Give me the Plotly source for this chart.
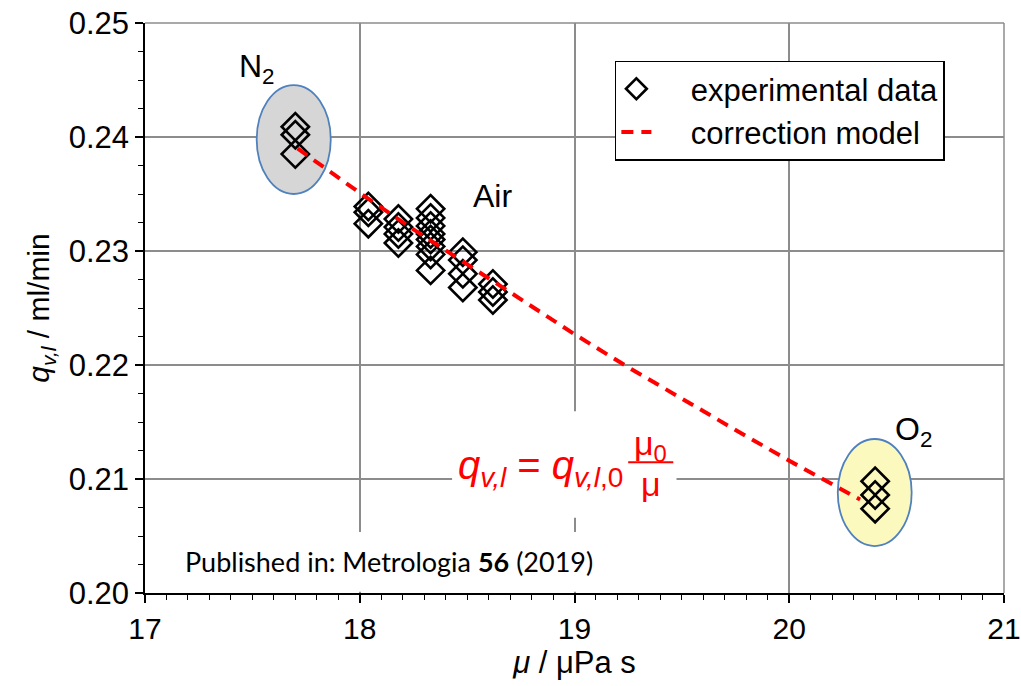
import plotly.graph_objects as go

# ---------------- data ----------------
n2_mu = [17.70, 17.70, 17.70]
n2_q = [0.2409, 0.2402, 0.2385]

air_mu = [18.04, 18.04, 18.04,
          18.18, 18.18, 18.18, 18.18,
          18.33, 18.33, 18.33, 18.33, 18.33, 18.33, 18.33, 18.33,
          18.48, 18.48, 18.48, 18.48,
          18.62, 18.62, 18.62]
air_q = [0.2339, 0.2334, 0.2324,
         0.2328, 0.2321, 0.2315, 0.2307,
         0.2337, 0.2329, 0.2322, 0.2315, 0.2310, 0.2304, 0.2297, 0.2283,
         0.2299, 0.2292, 0.2280, 0.2268,
         0.2271, 0.2264, 0.2257]

o2_mu = [20.40, 20.40, 20.40]
o2_q = [0.2098, 0.2086, 0.2074]

model_mu = [17.71, 18.00, 18.25, 18.50, 18.75, 19.00, 19.25, 19.50, 19.75, 20.00, 20.33]
model_q = [0.2390, 0.2351, 0.2319, 0.2288, 0.2257, 0.2227, 0.2198, 0.2170, 0.2143, 0.2116, 0.2082]

x_ticks = [17, 18, 19, 20, 21]
y_ticks = [0.20, 0.21, 0.22, 0.23, 0.24, 0.25]
y_ticklabels = ["0.20", "0.21", "0.22", "0.23", "0.24", "0.25"]

exp_mu = n2_mu + air_mu + o2_mu
exp_q = n2_q + air_q + o2_q

FONT = "Liberation Sans, Arial, sans-serif"
RED = "#FF0000"
GRID = "#8c8c8c"
NB = "\u00a0"

fig = go.Figure()

fig.add_trace(go.Scatter(
    x=exp_mu, y=exp_q, mode="markers", name=NB * 4 + "experimental data",
    marker=dict(symbol="diamond-open", size=21, color="black",
                line=dict(color="black", width=2.6)),
))
fig.add_trace(go.Scatter(
    x=model_mu, y=model_q, mode="lines", name=NB * 4 + "correction model",
    line=dict(color=RED, width=4, dash="12px,8px"),
))

shapes = [
    # top and right grid borders
    dict(type="line", xref="paper", yref="paper", x0=0, x1=1, y0=1, y1=1,
         line=dict(color=GRID, width=1.5), layer="below"),
    dict(type="line", xref="paper", yref="paper", x0=1, x1=1, y0=0, y1=1,
         line=dict(color=GRID, width=1.5), layer="below"),
    # N2 ellipse
    dict(type="circle", xref="x", yref="y", x0=17.52, x1=17.865, y0=0.2350, y1=0.24455,
         fillcolor="#d6d6d6", line=dict(color="#4F81BD", width=1.8), layer="between"),
    # O2 ellipse
    dict(type="circle", xref="x", yref="y", x0=20.226, x1=20.57, y0=0.20412, y1=0.21351,
         fillcolor="#fcf9bf", line=dict(color="#4F81BD", width=1.8), layer="between"),
    # white box behind formula
    dict(type="rect", xref="x", yref="y", x0=18.43, x1=19.475, y0=0.2066, y1=0.21595,
         fillcolor="white", line=dict(width=0), layer="between"),
    # white box behind publication note
    dict(type="rect", xref="x", yref="y", x0=17.0, x1=19.16, y0=0.2001, y1=0.20535,
         fillcolor="white", line=dict(width=0), layer="between"),
    # fraction bar
    dict(type="line", xref="x", yref="y", x0=19.25, x1=19.46, y0=0.21148, y1=0.21148,
         line=dict(color=RED, width=2)),
]

annotations = [
    dict(x=17.52, y=0.2460, text="N<sub>2</sub>", showarrow=False,
         font=dict(family=FONT, size=32, color="black")),
    dict(x=18.62, y=0.2348, text="Air", showarrow=False,
         font=dict(family=FONT, size=32, color="black")),
    dict(x=20.58, y=0.2142, text="O<sub>2</sub>", showarrow=False,
         font=dict(family=FONT, size=32, color="black")),
    dict(x=18.84, y=0.2110, xanchor="center",
         text="<i>q</i><sub><i>v,l</i></sub> = <i>q</i><sub><i>v,l</i>,0</sub>",
         showarrow=False, font=dict(family=FONT, size=40, color=RED)),
    dict(x=19.355, y=0.21295, text="μ<sub>0</sub>", showarrow=False,
         font=dict(family=FONT, size=34, color=RED)),
    dict(x=19.355, y=0.20955, text="μ", showarrow=False,
         font=dict(family=FONT, size=34, color=RED)),
    dict(x=18.137, y=0.20275, xanchor="center",
         text="Published in: Metrologia <b>56</b> (2019)", showarrow=False,
         font=dict(family="Lato, sans-serif", size=27, color="black")),
]

fig.update_layout(
    width=1021, height=686,
    margin=dict(l=145, r=17, t=23, b=93, autoexpand=False),
    paper_bgcolor="white", plot_bgcolor="white",
    font=dict(family=FONT, size=30, color="black"),
    shapes=shapes, annotations=annotations,
    showlegend=True,
    legend=dict(x=0.547, y=0.934, xanchor="left", yanchor="top",
                bgcolor="white", bordercolor="black", borderwidth=1.5,
                font=dict(family=FONT, size=31, color="black"),
                traceorder="normal"),
)

fig.update_xaxes(
    range=[17, 21], tickvals=x_ticks, ticktext=[str(v) for v in x_ticks],
    automargin=False, ticklabeloverflow="allow",
    showgrid=True, gridcolor=GRID, gridwidth=1.5,
    showline=True, linecolor="black", linewidth=1.5,
    ticks="outside", ticklen=8, tickwidth=1.5, tickcolor="black",
    minor=dict(dtick=0.1, ticks="outside", ticklen=5, tickcolor="black", tickwidth=1, showgrid=False),
    tickfont=dict(family=FONT, size=30),
    title=dict(text="<i>μ</i> / μPa s", font=dict(family=FONT, size=31), standoff=8),
    zeroline=False,
)
fig.update_yaxes(
    range=[0.20, 0.25], tickvals=y_ticks, ticktext=y_ticklabels,
    automargin=False, ticklabeloverflow="allow",
    showgrid=True, gridcolor=GRID, gridwidth=1.5,
    showline=True, linecolor="black", linewidth=1.5,
    ticks="outside", ticklen=8, tickwidth=1.5, tickcolor="black",
    minor=dict(dtick=0.0025, ticks="outside", ticklen=5, tickcolor="black", tickwidth=1, showgrid=False),
    tickfont=dict(family=FONT, size=31),
    title=dict(text="<i>q</i><sub><i>v,l</i></sub> / ml/min", font=dict(family=FONT, size=30), standoff=10),
    zeroline=False,
)

fig.write_html("out.html")
